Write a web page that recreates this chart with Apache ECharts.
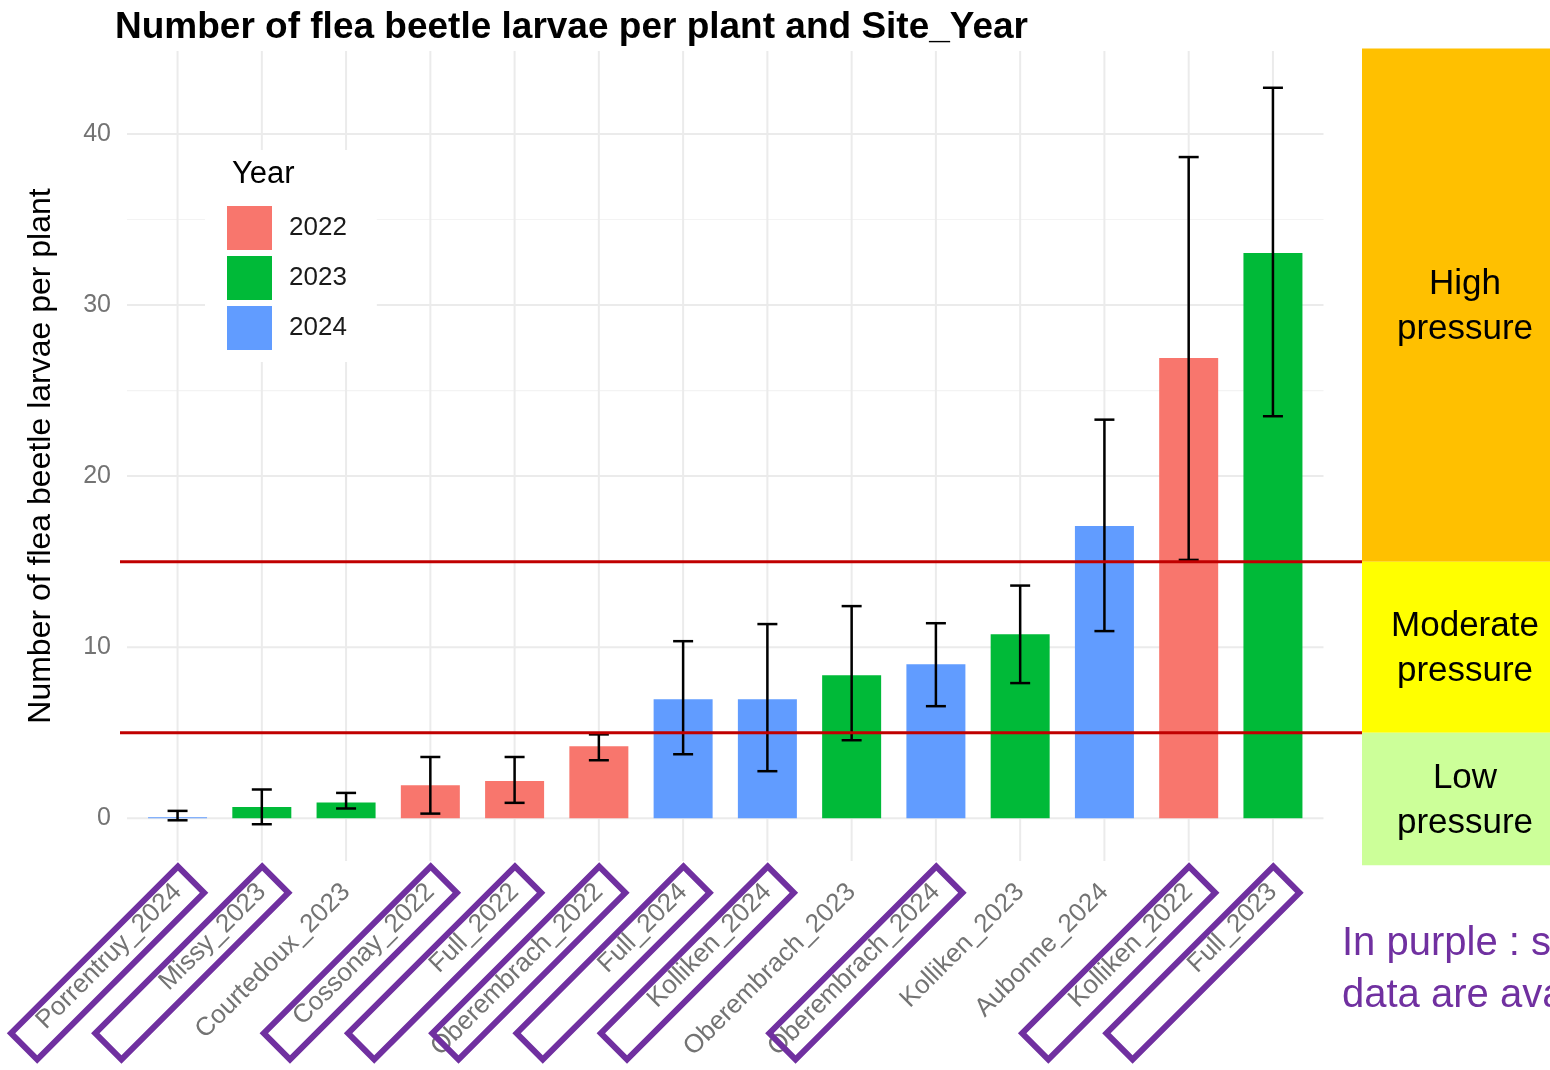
<!DOCTYPE html>
<html><head><meta charset="utf-8">
<script src="https://cdn.jsdelivr.net/npm/echarts@6/dist/echarts.min.js"></script>
<style>html,body{margin:0;padding:0;background:#fff}#c{width:1550px;height:1070px}</style>
</head><body><div id="c"></div>
<script>
// ---- data ----
const categories = ['Porrentruy_2024','Missy_2023','Courtedoux_2023','Cossonay_2022','Full_2022','Oberembrach_2022','Full_2024','Kolliken_2024','Oberembrach_2023','Oberembrach_2024','Kolliken_2023','Aubonne_2024','Kolliken_2022','Full_2023'];
const years = ['2024','2023','2023','2022','2022','2022','2024','2024','2023','2024','2023','2024','2022','2023'];
const means = [0.06,0.66,0.92,1.93,2.18,4.21,6.96,6.96,8.36,9.0,10.76,17.08,26.9,33.04];
const lowers = [-0.12,-0.35,0.57,0.27,0.9,3.39,3.74,2.75,4.56,6.55,7.9,10.94,15.1,23.5];
const uppers = [0.43,1.68,1.48,3.58,3.58,4.9,10.35,11.35,12.4,11.4,13.6,23.3,38.65,42.7];
const legendYears = ['2022','2023','2024'];
const yTicks = [0,10,20,30,40];
const yMinorTicks = [5,15,25,35];
const thresholds = [5,15];
const bandFrom = [15,5,-2.75];
const bandTo = [45,15,5];
const bandLabels = ['High\npressure','Moderate\npressure','Low\npressure'];
const bandColors = ['#FFC000','#FFFF00','#CCFF99'];
const boxedLabels = ['Porrentruy_2024','Missy_2023','Cossonay_2022','Full_2022','Oberembrach_2022','Full_2024','Kolliken_2024','Oberembrach_2024','Kolliken_2022','Full_2023'];
const noteLines = ['In purple : sites where','data are available'];

const yearColors = {'2022':'#F8766D','2023':'#00BA38','2024':'#619CFF'};
const FONT = '"Liberation Sans", Arial, sans-serif';
const GREY = '#737373';

const chart = echarts.init(document.getElementById('c'));

const barSeries = legendYears.map(y => ({
  name: y,
  type: 'bar',
  barWidth: 59,
  barGap: '-100%',
  itemStyle: {color: yearColors[y]},
  z: 2,
  data: categories.map((c, i) => years[i] === y ? [i, means[i]] : null).filter(d => d)
}));

// grid lines: [kind, value, major?]
const gridLineData = []
  .concat(yTicks.map(v => ['y', v, 1]))
  .concat(yMinorTicks.map(v => ['y', v, 0]))
  .concat(categories.map((c, i) => ['x', i, 1]));

const option = {
  animation: false,
  textStyle: {fontFamily: FONT},
  title: {
    text: 'Number of flea beetle larvae per plant and Site_Year',
    left: 110, top: 4,
    textStyle: {fontSize: 37, fontWeight: 'bold', color: '#000', fontFamily: FONT}
  },
  legend: {
    data: legendYears,
    orient: 'vertical',
    left: 205, top: 150,
    padding: [56, 30, 12, 22],
    backgroundColor: '#fff',
    icon: 'rect',
    itemWidth: 45, itemHeight: 44, itemGap: 6,
    textStyle: {fontSize: 26, color: '#1a1a1a', padding: [0, 0, 0, 12], fontFamily: FONT}
  },
  grid: {left: 127, right: 226.5, top: 51, bottom: 209, containLabel: false},
  xAxis: {
    type: 'value', min: -0.6, max: 13.6,
    axisLine: {show: false}, axisTick: {show: false}, splitLine: {show: false},
    axisLabel: {
      customValues: categories.map((c, i) => i),
      formatter: v => categories[Math.round(v)] || '',
      rotate: 45, fontSize: 26, color: GREY, margin: 27, fontFamily: FONT
    }
  },
  yAxis: {
    type: 'value', min: -2.5, max: 44.85,
    name: 'Number of flea beetle larvae per plant',
    nameLocation: 'middle', nameGap: 70,
    nameTextStyle: {fontSize: 32, color: '#000', fontFamily: FONT},
    axisLine: {show: false}, axisTick: {show: false}, splitLine: {show: false},
    axisLabel: {customValues: yTicks, fontSize: 25, color: GREY, margin: 16, fontFamily: FONT}
  },
  series: [
    {
      name: 'grid', type: 'custom', z: 0, silent: true,
      data: gridLineData,
      encode: {x: -1, y: -1},
      renderItem: function (params, api) {
        const d = gridLineData[params.dataIndex];
        const cs = params.coordSys;
        const style = {stroke: d[2] ? '#ebebeb' : '#f3f3f3', lineWidth: d[2] ? 2 : 1.2};
        if (d[0] === 'y') {
          const yy = api.coord([0, d[1]])[1];
          return {type: 'line', shape: {x1: cs.x, y1: yy, x2: cs.x + cs.width, y2: yy}, style: style};
        }
        const xx = api.coord([d[1], 0])[0];
        return {type: 'line', shape: {x1: xx, y1: cs.y, x2: xx, y2: cs.y + cs.height}, style: style};
      }
    }
  ].concat(barSeries).concat([{
    name: 'err', type: 'custom', z: 3,
    data: categories.map((c, i) => [i, lowers[i], uppers[i]]),
    encode: {x: 0, y: [1, 2]},
    renderItem: function (params, api) {
      const x = api.value(0);
      const lo = api.coord([x, api.value(1)]);
      const hi = api.coord([x, api.value(2)]);
      const hw = 10;
      const style = {stroke: '#000', lineWidth: 2.5};
      return {type: 'group', children: [
        {type: 'line', shape: {x1: lo[0], y1: lo[1], x2: hi[0], y2: hi[1]}, style: style},
        {type: 'line', shape: {x1: lo[0]-hw, y1: lo[1], x2: lo[0]+hw, y2: lo[1]}, style: style},
        {type: 'line', shape: {x1: hi[0]-hw, y1: hi[1], x2: hi[0]+hw, y2: hi[1]}, style: style}
      ]};
    }
  }])
};
chart.setOption(option);

// ---- annotations ----
const px = (x, y) => chart.convertToPixel({gridIndex: 0}, [x, y]);
const graphics = [];
const BAND_X = 1362, BAND_W = 188;
bandLabels.forEach((t, k) => {
  const top = px(0, bandTo[k])[1], bot = px(0, bandFrom[k])[1];
  graphics.push({type: 'rect', z: 50, shape: {x: BAND_X, y: top, width: BAND_W, height: bot - top}, style: {fill: bandColors[k]}});
  graphics.push({type: 'text', z: 51, style: {text: t, x: BAND_X + BAND_W/2 + 9, y: (top + bot)/2 + 2, align: 'center', verticalAlign: 'middle', fontSize: 35, lineHeight: 45, fontFamily: FONT, fill: '#000'}});
});
thresholds.forEach(v => {
  const yy = px(0, v)[1];
  graphics.push({type: 'line', z: 52, shape: {x1: 120, y1: yy, x2: BAND_X, y2: yy}, style: {stroke: '#C00000', lineWidth: 3}});
});
const axisBottom = px(0, -2.5)[1];
categories.forEach((c, i) => {
  if (boxedLabels.indexOf(c) < 0) return;
  const tx = px(i, 0)[0];
  const L = 236, S = 37;
  graphics.push({type: 'rect', z: 53, x: tx - 70, y: axisBottom + 102, rotation: Math.PI/4,
    shape: {x: -L/2, y: -S/2, width: L, height: S},
    style: {fill: 'none', stroke: '#7030A0', lineWidth: 6}});
});
graphics.push({type: 'text', z: 60, style: {text: 'Year', x: 232, y: 174, verticalAlign: 'middle', fontSize: 31, fontFamily: FONT, fill: '#000'}});
graphics.push({type: 'text', z: 60, style: {text: noteLines.join('\n'), x: 1342, y: 970, verticalAlign: 'middle', fontSize: 40, lineHeight: 52, fontFamily: FONT, fill: '#7030A0'}});
chart.setOption({graphic: graphics});
</script>
</body></html>
